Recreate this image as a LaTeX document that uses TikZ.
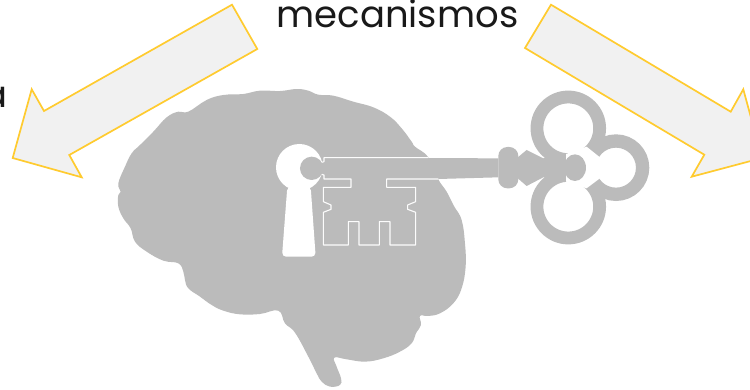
\documentclass[tikz,border=0pt]{standalone}
\usepackage{fontspec}
\setmainfont{Poppins}
\definecolor{arrowline}{HTML}{FFCB2F}
\definecolor{arrowfill}{HTML}{F1F1F1}
\definecolor{brain}{HTML}{BBBBBB}
\tikzset{
  bigarrow/.style={draw=arrowline,fill=arrowfill,line width=1.7pt,line join=miter},
  graypart/.style={fill=brain,draw=none},
  hole/.style={fill=white,draw=none},
  keyline/.style={draw=white!95!brain,line width=1.1pt,line join=round},
  words/.style={inner sep=0pt,font=\fontsize{37}{40}\selectfont,text=black!90,anchor=base}
}
\begin{document}
\begin{tikzpicture}[x=1pt,y=-1pt]
\useasboundingbox (0,0) rectangle (750,389);
\clip (0,0) rectangle (750,389);
\fill[white] (0,0) rectangle (750,389);
% texts
\node[words] (title) at (397.5,27) {mecanismos};
\node[words,anchor=base east] (lefta) at (7.5,107) {a};
% arrows
\draw[bigarrow] (232,4.7) -- (257.3,49) -- (69.3,155) -- (81.7,177.3) -- (12.7,158) -- (31.7,89.3) -- (44,111) -- cycle;
\draw[bigarrow] (551,4.7) -- (525,48) -- (704.3,154.7) -- (691.7,176.7) -- (762,158) -- (743.3,89.3) -- (730.7,111.7) -- cycle;
% brain
\begin{scope}[shift={(100,80)},x=0.3333pt,y=-0.3333pt]
\fill[brain] plot[smooth cycle,tension=0.7] coordinates {
(265,95)(320,60)(370,45)(430,42)(480,32)(540,33)(590,27)(625,32)(655,44)(700,47)(760,65)(820,82)(870,110)(905,145)(935,185)(945,200)(985,232)
(1015,298)(1040,335)(1062,378)(1085,420)(1095,490)(1097,560)(1085,625)(1060,670)(1020,700)(985,708)(960,708)(963,735)(948,760)(935,790)(900,815)(850,835)(795,845)(740,838)(703,833)(710,860)(723,895)(720,915)(690,920)(665,905)(650,880)(625,830)(585,758)(555,730)(535,692)(480,702)(420,703)(370,692)(335,675)(300,650)(265,625)(255,600)(250,575)(235,550)(190,542)(140,515)(105,485)(92,445)(70,415)(55,380)(55,345)(62,335)(55,310)(75,260)(95,220)(120,195)(160,155)(200,112)(235,95)};
\end{scope}
% key, in crop coordinates
\begin{scope}[shift={(260,80)},x=0.3333pt,y=-0.3333pt]
% keyhole
\fill[white] (118,262) circle[radius=70];
\fill[white,rounded corners=4pt] (82,320) -- (66,530) -- (167,530) -- (152,320) -- cycle;
% rings
\draw[brain,line width=12.8pt] (925,145) circle[radius=94];
\draw[brain,line width=12.8pt] (925,380) circle[radius=94];
\draw[brain,line width=13.3pt] (1068,263) circle[radius=80];
\fill[hole] (918,222) -- (980,200) -- (1020,232) -- (1020,295) -- (980,325) -- (918,305) -- cycle;
% shaft and collars
\fill[graypart] (192,233) -- (715,235) -- (715,292) -- (535,297) -- (192,297) -- cycle;
\fill[graypart] (155,265) circle[radius=35];
\fill[graypart] (165,250) -- (185,247) -- (192,245) -- (192,285) -- (185,283) -- (165,280) -- cycle;
\fill[graypart,rounded corners=9pt] (715,201) rectangle (775,325);
\fill[graypart] (770,235) -- (800,210) -- (850,235) -- (918,222) -- (918,305) -- (850,292) -- (800,318) -- (770,292) -- cycle;
\fill[graypart] (945,263) ellipse[x radius=33,y radius=40];
% key bit
\fill[graypart] (192,297) -- (273,297) -- (273,322) -- (190,322) -- (190,495) -- (467,495) -- (467,322) -- (380,322) -- (380,297) -- cycle;
\draw[keyline] (185,247) -- (192,245) -- (192,233) -- (505,233);
\draw[keyline] (185,283) -- (192,285) -- (192,297) -- (273,297) -- (273,322) -- (190,322) -- (190,365) -- (213,375) -- (213,388) -- (190,397) -- (190,495) -- (265,495) -- (265,425) -- (297,425) -- (297,495) -- (358,495) -- (358,425) -- (390,425) -- (390,495) -- (467,495) -- (467,397) -- (443,388) -- (443,375) -- (467,365) -- (467,322) -- (380,322) -- (380,297) -- (535,297);
\end{scope}
\end{tikzpicture}
\end{document}
